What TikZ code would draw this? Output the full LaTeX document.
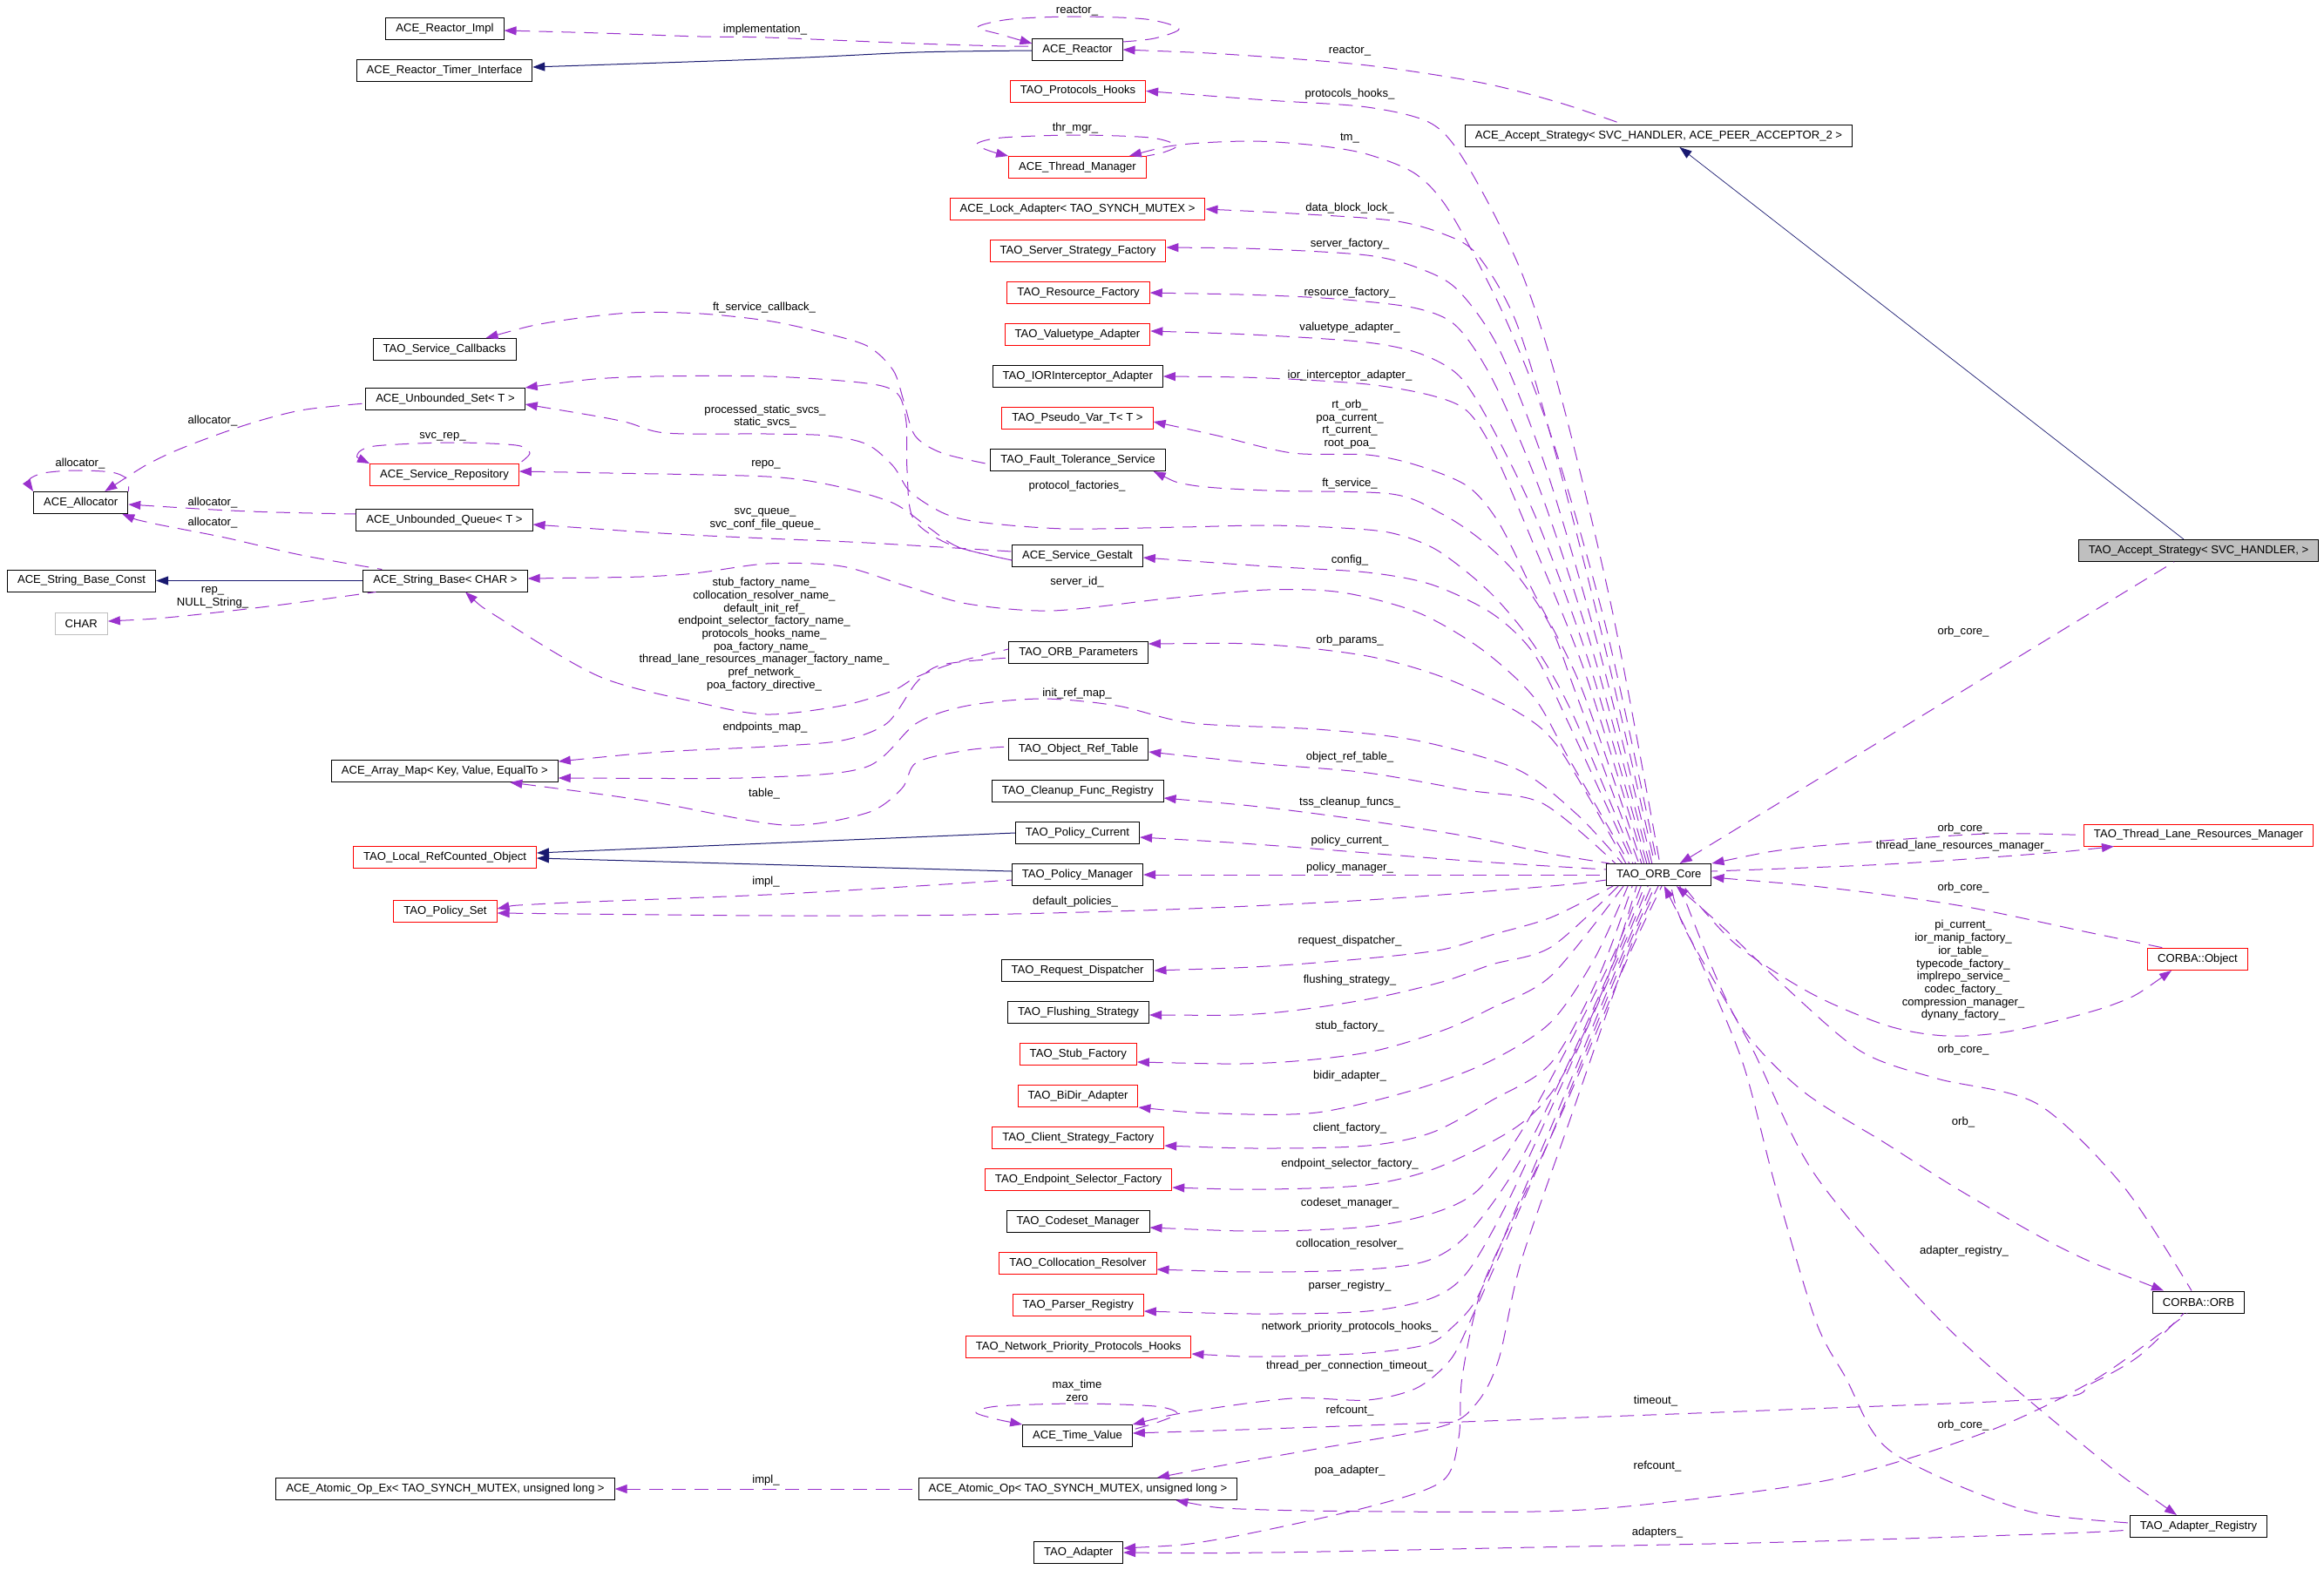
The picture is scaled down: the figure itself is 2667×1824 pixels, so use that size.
\documentclass[tikz,border=0pt]{standalone}
\usepackage{fontspec}
\setmainfont{Liberation Sans}
\usetikzlibrary{arrows.meta}
\definecolor{dpurple}{RGB}{154,50,205}
\definecolor{dnavy}{RGB}{25,25,112}
\definecolor{lgray}{RGB}{191,191,191}
\newcommand{\dfont}{\fontsize{13.1}{14.7}\selectfont}
\tikzset{
  box/.style={draw=black, line width=1pt, fill=white, minimum height=25pt, inner xsep=11.5pt, inner ysep=0pt, font=\dfont},
  rbox/.style={box, draw=red},
  gbox/.style={box, draw=lgray},
  selbox/.style={box, fill=lgray},
  dep/.style={draw=dpurple, line width=1pt, dash pattern=on 16pt off 10pt, {Triangle[length=14pt,width=10pt]}-},
  inh/.style={draw=dnavy, line width=1pt, {Triangle[length=14pt,width=10pt]}-},
  lbl/.style={font=\dfont, inner sep=0pt, align=center},
}
\begin{document}
\begin{tikzpicture}[x=1pt,y=-1pt]
\fill[white] (0,0) rectangle (2667,1824);
\useasboundingbox (0,0) rectangle (2667,1824);

% ---------- nodes ----------
\node[box] (alloc) at (92.7,577) {ACE\_Allocator};
\node[box] (sbconst) at (93.6,666.5) {ACE\_String\_Base\_Const};
\node[gbox] (charn) at (93.3,716) {CHAR};

\node[box] (rimpl) at (510.5,33) {ACE\_Reactor\_Impl};
\node[box] (rtimer) at (510,81) {ACE\_Reactor\_Timer\_Interface};
\node[box] (svccb) at (510,401) {TAO\_Service\_Callbacks};
\node[box] (uset) at (511,458) {ACE\_Unbounded\_Set< T >};
\node[rbox] (srepo) at (510,545) {ACE\_Service\_Repository};
\node[box] (uqueue) at (510,597) {ACE\_Unbounded\_Queue< T >};
\node[box] (sbase) at (511,666.5) {ACE\_String\_Base< CHAR >};
\node[box] (amap) at (510.3,885) {ACE\_Array\_Map< Key, Value, EqualTo >};
\node[rbox] (lrco) at (510.6,984) {TAO\_Local\_RefCounted\_Object};
\node[rbox] (pset) at (511,1046) {TAO\_Policy\_Set};
\node[box] (aopex) at (511,1709) {ACE\_Atomic\_Op\_Ex< TAO\_SYNCH\_MUTEX, unsigned long >};

\node[box] (reactor) at (1236.5,57) {ACE\_Reactor};
\node[rbox] (phooks) at (1237,104.5) {TAO\_Protocols\_Hooks};
\node[rbox] (thrmgr) at (1236.5,192) {ACE\_Thread\_Manager};
\node[rbox] (lockad) at (1236.5,240) {ACE\_Lock\_Adapter< TAO\_SYNCH\_MUTEX >};
\node[rbox] (ssf) at (1237,288) {TAO\_Server\_Strategy\_Factory};
\node[rbox] (resf) at (1237.6,336) {TAO\_Resource\_Factory};
\node[rbox] (vta) at (1236.5,384) {TAO\_Valuetype\_Adapter};
\node[box] (iora) at (1236.7,432) {TAO\_IORInterceptor\_Adapter};
\node[rbox] (pvar) at (1236.5,480) {TAO\_Pseudo\_Var\_T< T >};
\node[box] (fts) at (1237,528) {TAO\_Fault\_Tolerance\_Service};
\node[box] (gestalt) at (1236.5,638) {ACE\_Service\_Gestalt};
\node[box] (orbp) at (1237.6,749) {TAO\_ORB\_Parameters};
\node[box] (ort) at (1237.6,860) {TAO\_Object\_Ref\_Table};
\node[box] (cfr) at (1236.7,908) {TAO\_Cleanup\_Func\_Registry};
\node[box] (pcur) at (1236.5,956) {TAO\_Policy\_Current};
\node[box] (pman) at (1236.5,1004) {TAO\_Policy\_Manager};
\node[box] (rdisp) at (1236.5,1114) {TAO\_Request\_Dispatcher};
\node[box] (flush) at (1237.6,1162) {TAO\_Flushing\_Strategy};
\node[rbox] (stubf) at (1237.3,1210) {TAO\_Stub\_Factory};
\node[rbox] (bidir) at (1237,1258) {TAO\_BiDir\_Adapter};
\node[rbox] (csf) at (1237.3,1306) {TAO\_Client\_Strategy\_Factory};
\node[rbox] (esf) at (1237.6,1354) {TAO\_Endpoint\_Selector\_Factory};
\node[box] (csm) at (1237,1402) {TAO\_Codeset\_Manager};
\node[rbox] (colr) at (1237,1450) {TAO\_Collocation\_Resolver};
\node[rbox] (preg) at (1237.3,1498) {TAO\_Parser\_Registry};
\node[rbox] (npph) at (1237.6,1546) {TAO\_Network\_Priority\_Protocols\_Hooks};
\node[box] (tval) at (1236.5,1648) {ACE\_Time\_Value};
\node[box] (aop) at (1237,1709) {ACE\_Atomic\_Op< TAO\_SYNCH\_MUTEX, unsigned long >};
\node[box] (adapter) at (1237.6,1782) {TAO\_Adapter};

\node[box] (aas) at (1903.5,156) {ACE\_Accept\_Strategy< SVC\_HANDLER, ACE\_PEER\_ACCEPTOR\_2 >};
\node[box] (core) at (1903.8,1004) {TAO\_ORB\_Core};

\node[selbox] (tas) at (2523,632) {TAO\_Accept\_Strategy< SVC\_HANDLER, >};
\node[rbox] (tlrm) at (2523,958.5) {TAO\_Thread\_Lane\_Resources\_Manager};
\node[rbox] (cobj) at (2522,1101) {CORBA::Object};
\node[box] (corb) at (2523,1494.5) {CORBA::ORB};
\node[box] (areg) at (2523,1752) {TAO\_Adapter\_Registry};

% ---------- left part ----------
\draw[dep] plot[smooth] coordinates {([yshift=-2]rimpl.east) (689,38) (804,42) (880,43) (1052,50) (1155,53) ([yshift=4]reactor.west)};
\draw[inh] plot[smooth] coordinates {([yshift=4]rtimer.east) (900,67) (1052,60) ([yshift=-1]reactor.west)};
\draw[dep] plot[smooth] coordinates {([yshift=7]reactor.west) (1150,40) (1122,31) (1160,22) (1236,19) (1315,22) (1353,33) (1325,44) ([yshift=9]reactor.east)};
\draw[dep] plot[smooth] coordinates {(reactor.east) (1420,63) (1569,75) (1700,95) (1790,118) ([xshift=-40]aas.north)};

\draw[dep] plot[smooth] coordinates {([xshift=-27]alloc.north east) (189,523) (275,490) (345,471) ([yshift=-5]uset.west)};
\draw[dep] plot[smooth] coordinates {(alloc.north west) (33,551) (50,543) (86,540) (128,542) (146,550) (alloc.north east)};
\draw[dep] plot[smooth] coordinates {([yshift=-2]alloc.east) (287,587) ([yshift=7]uqueue.west)};
\draw[dep] plot[smooth] coordinates {([xshift=-7]alloc.south east) (172,600) (258,617) (345,637) ([xshift=22]sbase.north west)};
\draw[inh] (sbconst.east) -- (sbase.west);
\draw[dep] plot[smooth] coordinates {([yshift=3]charn.east) (201,708) (316,695) ([xshift=15]sbase.south west)};
\draw[dep] plot[smooth] coordinates {(srepo.north west) (410,522) (430,512) (517,508) (592,511) (608,520) (srepo.north east)};

\draw[dep] plot[smooth] coordinates {([xshift=-35]svccb.north east) (631,370) (723,359) (804,360) (880,368) (937,380) (995,397) (1025,425) (1037,460) (1050,500) (1081,520) ([yshift=-5]fts.west)};
\draw[dep] plot[smooth] coordinates {([yshift=13]uset.east) (717,433) (880,432) (995,440) (1030,452) (1040,485) (1041,540) (1048,595) (1090,625) ([yshift=-5]gestalt.west)};
\draw[dep] plot[smooth] coordinates {([yshift=4]srepo.east) (700,543) (880,547) (955,557) (1024,577) (1065,605) (1100,628) ([yshift=-5]gestalt.west)};
\draw[dep] plot[smooth] coordinates {([yshift=-5]uqueue.east) (775,613) (880,618) (995,623) ([yshift=5]gestalt.west)};
\draw[dep] plot[smooth] coordinates {([xshift=23]sbase.south) (574,710) (689,777) (804,807) (880,820) (966,810) (1024,793) (1052,777) (1098,760) ([yshift=4]orbp.west)};
\draw[dep] plot[smooth] coordinates {([yshift=11]amap.east) (760,863) (880,857) (966,850) (1018,830) (1052,783) (1081,763) ([yshift=-6]orbp.west)};
\draw[dep] plot[smooth] coordinates {([xshift=75]amap.south) (746,920) (900,947) (995,933) (1035,905) (1052,875) (1110,861) ([yshift=3]ort.west)};
\draw[inh] ([yshift=5]lrco.east) -- (pcur.west);
\draw[inh] ([yshift=-1]lrco.east) -- ([yshift=4]pman.west);
\draw[dep] plot[smooth] coordinates {([yshift=3]pset.east) (632,1037) (880,1027) (1052,1017) ([yshift=-6]pman.west)};
\draw[dep] (aopex.east) -- (aop.west);
\draw[dep] plot[smooth] coordinates {(thrmgr.north west) (1135,173) (1121,165) (1150,158) (1236,155) (1320,158) (1350,167) (1335,175) (thrmgr.north east)};
\draw[dep] plot[smooth] coordinates {(tval.north west) (1140,1628) (1120,1621) (1145,1614) (1236,1611) (1325,1614) (1351,1622) (1330,1632) ([yshift=-6]tval.north east)};

% ---------- ORB_Core upper fan ----------
\draw[dep] plot[smooth] coordinates {(phooks.east) (1454,115) (1569,123) (1643,142) (1684,190) (1745,310) (1790,450) (1850,700) ([xshift=1]core.north)};
\draw[dep] plot[smooth] coordinates {([xshift=-20]thrmgr.north east) (1356,166) (1437,162) (1511,167) (1569,177) (1625,200) (1665,245) (1725,360) (1780,500) (1843,720) ([xshift=-2]core.north)};
\draw[dep] plot[smooth] coordinates {(lockad.east) (1483,245) (1597,253) (1655,268) (1695,292) (1740,370) (1785,520) (1840,735) ([xshift=-5]core.north)};
\draw[dep] plot[smooth] coordinates {([yshift=4]ssf.east) (1454,286) (1569,293) (1626,307) (1672,332) (1720,400) (1775,540) (1835,745) ([xshift=-8]core.north)};
\draw[dep] plot[smooth] coordinates {(resf.east) (1454,339) (1545,344) (1626,354) (1672,375) (1715,440) (1770,570) (1830,755) ([xshift=-11]core.north)};
\draw[dep] plot[smooth] coordinates {([yshift=4]vta.east) (1454,385) (1569,393) (1630,406) (1675,432) (1712,490) (1765,600) (1825,765) ([xshift=-14]core.north)};
\draw[dep] plot[smooth] coordinates {(iora.east) (1454,434) (1569,441) (1643,454) (1684,472) (1715,520) (1760,625) (1820,775) ([xshift=-17]core.north)};
\draw[dep] plot[smooth] coordinates {([yshift=-4]pvar.east) (1397,500) (1483,520) (1569,522) (1626,534) (1684,558) (1720,600) (1760,680) (1815,790) ([xshift=-20]core.north)};
\draw[dep] plot[smooth] coordinates {([xshift=-14]fts.south east) (1368,557) (1454,563) (1597,567) (1655,590) (1700,620) (1741,660) (1780,720) (1810,800) ([xshift=-23]core.north)};
\draw[dep] plot[smooth] coordinates {([yshift=-6]uset.east) (712,483) (764,497) (880,498) (949,500) (995,510) (1025,535) (1045,565) (1085,590) (1130,600) (1224,607) (1356,605) (1454,603) (1540,606) (1598,612) (1650,632) (1710,680) (1760,740) (1805,820) ([xshift=-27]core.north)};
\draw[dep] plot[smooth] coordinates {([yshift=-2]gestalt.east) (1454,650) (1569,657) (1643,671) (1712,704) (1760,750) (1800,830) ([xshift=-30]core.north)};
\draw[dep] plot[smooth] coordinates {([yshift=2.5]sbase.east) (775,660) (880,647) (966,650) (1041,673) (1110,693) (1207,701) (1339,687) (1454,677) (1540,680) (1627,703) (1700,745) (1760,800) (1800,870) ([xshift=-34]core.north)};
\draw[dep] plot[smooth] coordinates {([yshift=10]orbp.east) (1454,740) (1569,753) (1655,777) (1741,817) (1790,860) ([xshift=-38]core.north)};
\draw[dep] plot[smooth] coordinates {([yshift=-8]amap.east) (880,892) (995,880) (1052,830) (1110,810) (1196,802) (1282,810) (1368,830) (1511,837) (1626,850) (1741,883) (1810,935) ([xshift=-42]core.north)};
\draw[dep] plot[smooth] coordinates {([yshift=-3]ort.east) (1454,877) (1569,887) (1684,907) (1770,922) ([xshift=-50]core.north)};
\draw[dep] plot[smooth] coordinates {([yshift=-8]cfr.east) (1454,927) (1569,942) (1684,960) (1780,980) ([xshift=4]core.north west)};
\draw[dep] plot[smooth] coordinates {([yshift=-5]pcur.east) (1454,970) (1684,988) ([yshift=6]core.west)};
\draw[dep] (pman.east) -- (core.west);
\draw[dep] plot[smooth] coordinates {([yshift=-2]pset.east) (900,1051) (1110,1050) (1339,1044) (1569,1033) (1780,1017) ([yshift=-6]core.west)};

% ---------- ORB_Core lower fan ----------
\draw[dep] plot[smooth] coordinates {(rdisp.east) (1454,1109) (1569,1100) (1655,1090) (1712,1073) (1780,1053) ([xshift=8]core.south west)};
\draw[dep] plot[smooth] coordinates {([yshift=-3]flush.east) (1454,1163) (1569,1147) (1655,1127) (1712,1107) (1780,1087) ([xshift=14]core.south west)};
\draw[dep] plot[smooth] coordinates {([yshift=-9]stubf.east) (1454,1220) (1569,1208) (1655,1183) (1712,1157) (1780,1120) ([xshift=20]core.south west)};
\draw[dep] plot[smooth] coordinates {([yshift=-13]bidir.east) (1396,1278) (1511,1277) (1626,1250) (1712,1217) (1780,1173) (1830,1100) ([xshift=25]core.south west)};
\draw[dep] plot[smooth] coordinates {([yshift=-9]csf.east) (1454,1318) (1569,1315) (1643,1300) (1712,1263) (1780,1220) (1835,1120) ([xshift=30]core.south west)};
\draw[dep] plot[smooth] coordinates {([yshift=-9]esf.east) (1454,1365) (1569,1360) (1650,1340) (1741,1293) (1790,1240) (1842,1130) ([xshift=35]core.south west)};
\draw[dep] plot[smooth] coordinates {([yshift=-7]csm.east) (1454,1413) (1569,1408) (1643,1393) (1695,1367) (1745,1300) (1800,1200) (1852,1095) ([xshift=40]core.south west)};
\draw[dep] plot[smooth] coordinates {([yshift=-7]colr.east) (1454,1460) (1569,1457) (1638,1447) (1684,1417) (1740,1340) (1800,1220) (1856,1095) ([xshift=44]core.south west)};
\draw[dep] plot[smooth] coordinates {([yshift=-7]preg.east) (1454,1508) (1569,1505) (1643,1490) (1684,1460) (1730,1380) (1790,1250) (1859,1095) ([xshift=48]core.south west)};
\draw[dep] plot[smooth] coordinates {([yshift=-8]npph.east) (1454,1557) (1569,1553) (1638,1543) (1667,1523) (1695,1490) (1730,1410) (1790,1270) (1862,1095) ([xshift=52]core.south west)};
\draw[dep] plot[smooth] coordinates {(tval.north east) (1368,1620) (1483,1605) (1569,1607) (1626,1593) (1665,1560) (1690,1510) (1730,1420) (1790,1280) (1865,1095) ([xshift=56]core.south west)};
\draw[dep] plot[smooth] coordinates {([xshift=91]aop.north) (1397,1683) (1511,1663) (1655,1637) (1695,1610) (1720,1560) (1745,1450) (1800,1290) (1868,1095) ([xshift=60]core.south west)};
\draw[dep] plot[smooth] coordinates {([yshift=5]adapter.east) (1397,1767) (1569,1730) (1655,1700) (1674,1650) (1678,1580) (1700,1480) (1745,1380) (1800,1260) (1870,1095) ([xshift=64]core.south west)};

% ---------- right part ----------
\draw[inh, line width=0.7pt] ([xshift=24]aas.south) -- ([xshift=-17]tas.north);
\draw[dep] ([xshift=24]core.north) -- ([xshift=-28]tas.south);
\draw[dep] plot[smooth] coordinates {(core.north east) (2049,975) (2136,967) (2280,957) (tlrm.west)};
\draw[dep] plot[smooth] coordinates {([xshift=35]tlrm.south west) (2338,980) (2165,992) ([yshift=4]core.east)};
\draw[dep] plot[smooth] coordinates {([yshift=-3]core.east) (2107,1020) (2252,1040) (2396,1070) ([xshift=-39]cobj.north)};
\draw[dep] plot[smooth] coordinates {([xshift=-30]cobj.south) (2425,1153) (2310,1183) (2234,1189) (2165,1177) (2078,1140) (1991,1083) ([xshift=28]core.south)};
\draw[dep] plot[smooth] coordinates {([xshift=20]core.south) (1980,1067) (2049,1133) (2136,1207) (2223,1238) (2338,1267) (2437,1362) ([xshift=-8]corb.north)};
\draw[dep] plot[smooth] coordinates {([xshift=-40]corb.north) (2367,1433) (2252,1368) (2165,1313) (2066,1250) (1991,1167) ([xshift=24]core.south)};
\draw[dep] plot[smooth] coordinates {([xshift=6]core.south) (1950,1100) (2000,1220) (2037,1360) (2084,1517) (2119,1583) (2147,1640) (2176,1670) (2252,1707) (2338,1737) ([yshift=4]areg.west)};
\draw[dep] plot[smooth] coordinates {([xshift=-25]areg.north) (2396,1663) (2234,1523) (2084,1350) (2009,1200) (1934,1067) ([xshift=14]core.south)};
\draw[dep] plot[smooth] coordinates {([yshift=3]tval.east) (1454,1640) (1760,1629) (2049,1618) (2356,1605) (2400,1588) (2454,1557) ([xshift=-17]corb.south)};
\draw[dep] plot[smooth] coordinates {([xshift=-71]aop.south east) (1454,1733) (1760,1735) (1905,1725) (2107,1697) (2281,1643) (2400,1586) (2480,1530) ([xshift=-13]corb.south)};
\draw[dep] plot[smooth] coordinates {(adapter.east) (1454,1782) (1760,1776) (2049,1770) (2367,1760) ([yshift=-4]areg.west)};

% ---------- labels ----------
\node[lbl] (l01) at (878,34) {implementation\_};
\node[lbl] (l02) at (1236,13) {reactor\_};
\node[lbl] (l03) at (1549,59) {reactor\_};
\node[lbl] (l04) at (1549,108) {protocols\_hooks\_};
\node[lbl] (l05) at (1234,147) {thr\_mgr\_};
\node[lbl] (l06) at (1549,159) {tm\_};
\node[lbl] (l07) at (1549,239) {data\_block\_lock\_};
\node[lbl] (l08) at (1549,280) {server\_factory\_};
\node[lbl] (l09) at (1549,336) {resource\_factory\_};
\node[lbl] (l10) at (1549,376) {valuetype\_adapter\_};
\node[lbl] (l11) at (1549,431) {ior\_interceptor\_adapter\_};
\node[lbl] (l12) at (1549,487) {rt\_orb\_\\poa\_current\_\\rt\_current\_\\root\_poa\_};
\node[lbl] (l13) at (1549,555) {ft\_service\_};
\node[lbl] (l14) at (877,353) {ft\_service\_callback\_};
\node[lbl] (l15) at (878,478) {processed\_static\_svcs\_\\static\_svcs\_};
\node[lbl] (l16) at (244,483) {allocator\_};
\node[lbl] (l17) at (92,532) {allocator\_};
\node[lbl] (l18) at (508,501) {svc\_rep\_};
\node[lbl] (l19) at (879,533) {repo\_};
\node[lbl] (l20) at (244,577) {allocator\_};
\node[lbl] (l21) at (244,600) {allocator\_};
\node[lbl] (l22) at (878,595.5) {svc\_queue\_\\svc\_conf\_file\_queue\_};
\node[lbl] (l23) at (1236,558) {protocol\_factories\_};
\node[lbl] (l24) at (1549,643) {config\_};
\node[lbl] (l25) at (1236,668) {server\_id\_};
\node[lbl] (l26) at (244,685.5) {rep\_\\NULL\_String\_};
\node[lbl] (l27) at (877,728) {stub\_factory\_name\_\\collocation\_resolver\_name\_\\default\_init\_ref\_\\endpoint\_selector\_factory\_name\_\\protocols\_hooks\_name\_\\poa\_factory\_name\_\\thread\_lane\_resources\_manager\_factory\_name\_\\pref\_network\_\\poa\_factory\_directive\_};
\node[lbl] (l28) at (1549,735) {orb\_params\_};
\node[lbl] (l29) at (878,835) {endpoints\_map\_};
\node[lbl] (l30) at (1236,796) {init\_ref\_map\_};
\node[lbl] (l31) at (1549,869) {object\_ref\_table\_};
\node[lbl] (l32) at (877,911) {table\_};
\node[lbl] (l33) at (1549,921) {tss\_cleanup\_funcs\_};
\node[lbl] (l34) at (1549,965) {policy\_current\_};
\node[lbl] (l35) at (1549,996) {policy\_manager\_};
\node[lbl] (l36) at (879,1012) {impl\_};
\node[lbl] (l37) at (1234,1035) {default\_policies\_};
\node[lbl] (l38) at (1549,1080) {request\_dispatcher\_};
\node[lbl] (l39) at (1549,1125) {flushing\_strategy\_};
\node[lbl] (l40) at (1549,1178) {stub\_factory\_};
\node[lbl] (l41) at (1549,1235) {bidir\_adapter\_};
\node[lbl] (l42) at (1549,1295) {client\_factory\_};
\node[lbl] (l43) at (1549,1336) {endpoint\_selector\_factory\_};
\node[lbl] (l44) at (1549,1381) {codeset\_manager\_};
\node[lbl] (l45) at (1549,1428) {collocation\_resolver\_};
\node[lbl] (l46) at (1549,1476) {parser\_registry\_};
\node[lbl] (l47) at (1549,1523) {network\_priority\_protocols\_hooks\_};
\node[lbl] (l48) at (1549,1568) {thread\_per\_connection\_timeout\_};
\node[lbl] (l49) at (1236,1596) {max\_time\\zero};
\node[lbl] (l50) at (1549,1619) {refcount\_};
\node[lbl] (l51) at (1549,1688) {poa\_adapter\_};
\node[lbl] (l52) at (879,1699) {impl\_};
\node[lbl] (l53) at (1900,1608) {timeout\_};
\node[lbl] (l54) at (1902,1683) {refcount\_};
\node[lbl] (l55) at (1902,1759) {adapters\_};
\node[lbl] (l56) at (2253,725) {orb\_core\_};
\node[lbl] (l57) at (2253,951) {orb\_core\_};
\node[lbl] (l58) at (2253,971) {thread\_lane\_resources\_manager\_};
\node[lbl] (l59) at (2253,1019) {orb\_core\_};
\node[lbl] (l60) at (2253,1114) {pi\_current\_\\ior\_manip\_factory\_\\ior\_table\_\\typecode\_factory\_\\implrepo\_service\_\\codec\_factory\_\\compression\_manager\_\\dynany\_factory\_};
\node[lbl] (l61) at (2253,1205) {orb\_core\_};
\node[lbl] (l62) at (2253,1288) {orb\_};
\node[lbl] (l63) at (2254,1436) {adapter\_registry\_};
\node[lbl] (l64) at (2253,1636) {orb\_core\_};
\end{tikzpicture}
\end{document}
